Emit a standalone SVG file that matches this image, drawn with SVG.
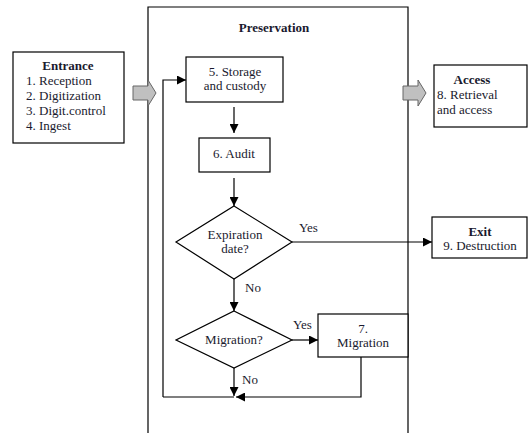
<svg xmlns="http://www.w3.org/2000/svg" width="530" height="433" viewBox="0 0 530 433">
<defs>
<marker id="ah" viewBox="0 0 10 10" refX="10" refY="5" markerWidth="9" markerHeight="9" markerUnits="userSpaceOnUse" orient="auto">
<path d="M0,0 L10,5 L0,10 Z" fill="#000"/>
</marker>
<style>
.box{fill:#fff;stroke:#000;stroke-width:1.2}
.frame{fill:none;stroke:#000;stroke-width:1.2}
.ln{fill:none;stroke:#000;stroke-width:1.2}
.ar{fill:none;stroke:#000;stroke-width:1.2;marker-end:url(#ah)}
.blk{fill:#c0c0c0;stroke:#666;stroke-width:1}
text{font-family:'Liberation Serif','Times New Roman',serif;font-size:13px;fill:#1a1a2e}
.b{font-weight:bold}
.c{text-anchor:middle}
</style>
</defs>
<rect width="530" height="433" fill="#fff"/>
<g font-family="Liberation Serif, Times New Roman, serif">

<g id="preservation">
<path class="frame" d="M148,433 L148,7 L408,7 L408,433"/>
<text class="b c" x="274" y="32">Preservation</text>
</g>

<g id="connectors">
<path class="ar" d="M163,397 L163,80 L186,80"/>
<path class="ar" d="M234,107 L234,133"/>
<path class="ar" d="M234,178 L234,206"/>
<path class="ar" d="M292,242 L432,242"/>
<path class="ar" d="M234,279 L234,311"/>
<path class="ar" d="M292,340 L318,340"/>
<path class="ar" d="M234,368 L234,396"/>
<path class="ln" d="M163,397 L234,397"/>
<path class="ar" d="M361,357 L361,397 L236,397"/>
<path class="blk" d="M133,86 L148,86 L148,80 L156,93 L148,106 L148,100 L133,100 Z"/>
<path class="blk" d="M403,86 L418,86 L418,80 L426,93 L418,106 L418,100 L403,100 Z"/>
<text x="299" y="232">Yes</text>
<text x="245" y="292">No</text>
<text x="293" y="329">Yes</text>
<text x="242" y="384">No</text>
</g>

<g id="entrance">
<rect class="box" x="13" y="52" width="111" height="91"/>
<text class="b c" x="68" y="70">Entrance</text>
<text x="26" y="85">1. Reception</text>
<text x="26" y="100">2. Digitization</text>
<text x="26" y="115">3. Digit.control</text>
<text x="26" y="130">4. Ingest</text>
</g>

<g id="storage">
<rect class="box" x="186" y="57" width="97" height="45"/>
<text class="c" x="235" y="76">5. Storage</text>
<text class="c" x="235" y="90">and custody</text>
</g>

<g id="audit">
<rect class="box" x="199" y="138" width="71" height="34"/>
<text class="c" x="234" y="158">6. Audit</text>
</g>

<g id="expiration">
<path class="box" d="M234,206 L292,242 L234,279 L176,242 Z"/>
<text class="c" x="235" y="239">Expiration</text>
<text class="c" x="235" y="253">date?</text>
</g>

<g id="migration-decision">
<path class="box" d="M234,311 L292,340 L234,368 L176,340 Z"/>
<text class="c" x="234" y="344">Migration?</text>
</g>

<g id="migration">
<rect class="box" x="318" y="314" width="90" height="43"/>
<text class="c" x="363" y="333">7.</text>
<text class="c" x="363" y="347">Migration</text>
</g>

<g id="access">
<rect class="box" x="434" y="65" width="93" height="62"/>
<text class="b c" x="472" y="84">Access</text>
<text x="437" y="99">8. Retrieval</text>
<text x="437" y="114">and access</text>
</g>

<g id="exit">
<rect class="box" x="432" y="217" width="95" height="41"/>
<text class="b c" x="480" y="236">Exit</text>
<text class="c" x="480" y="250">9. Destruction</text>
</g>
</g>
</svg>
